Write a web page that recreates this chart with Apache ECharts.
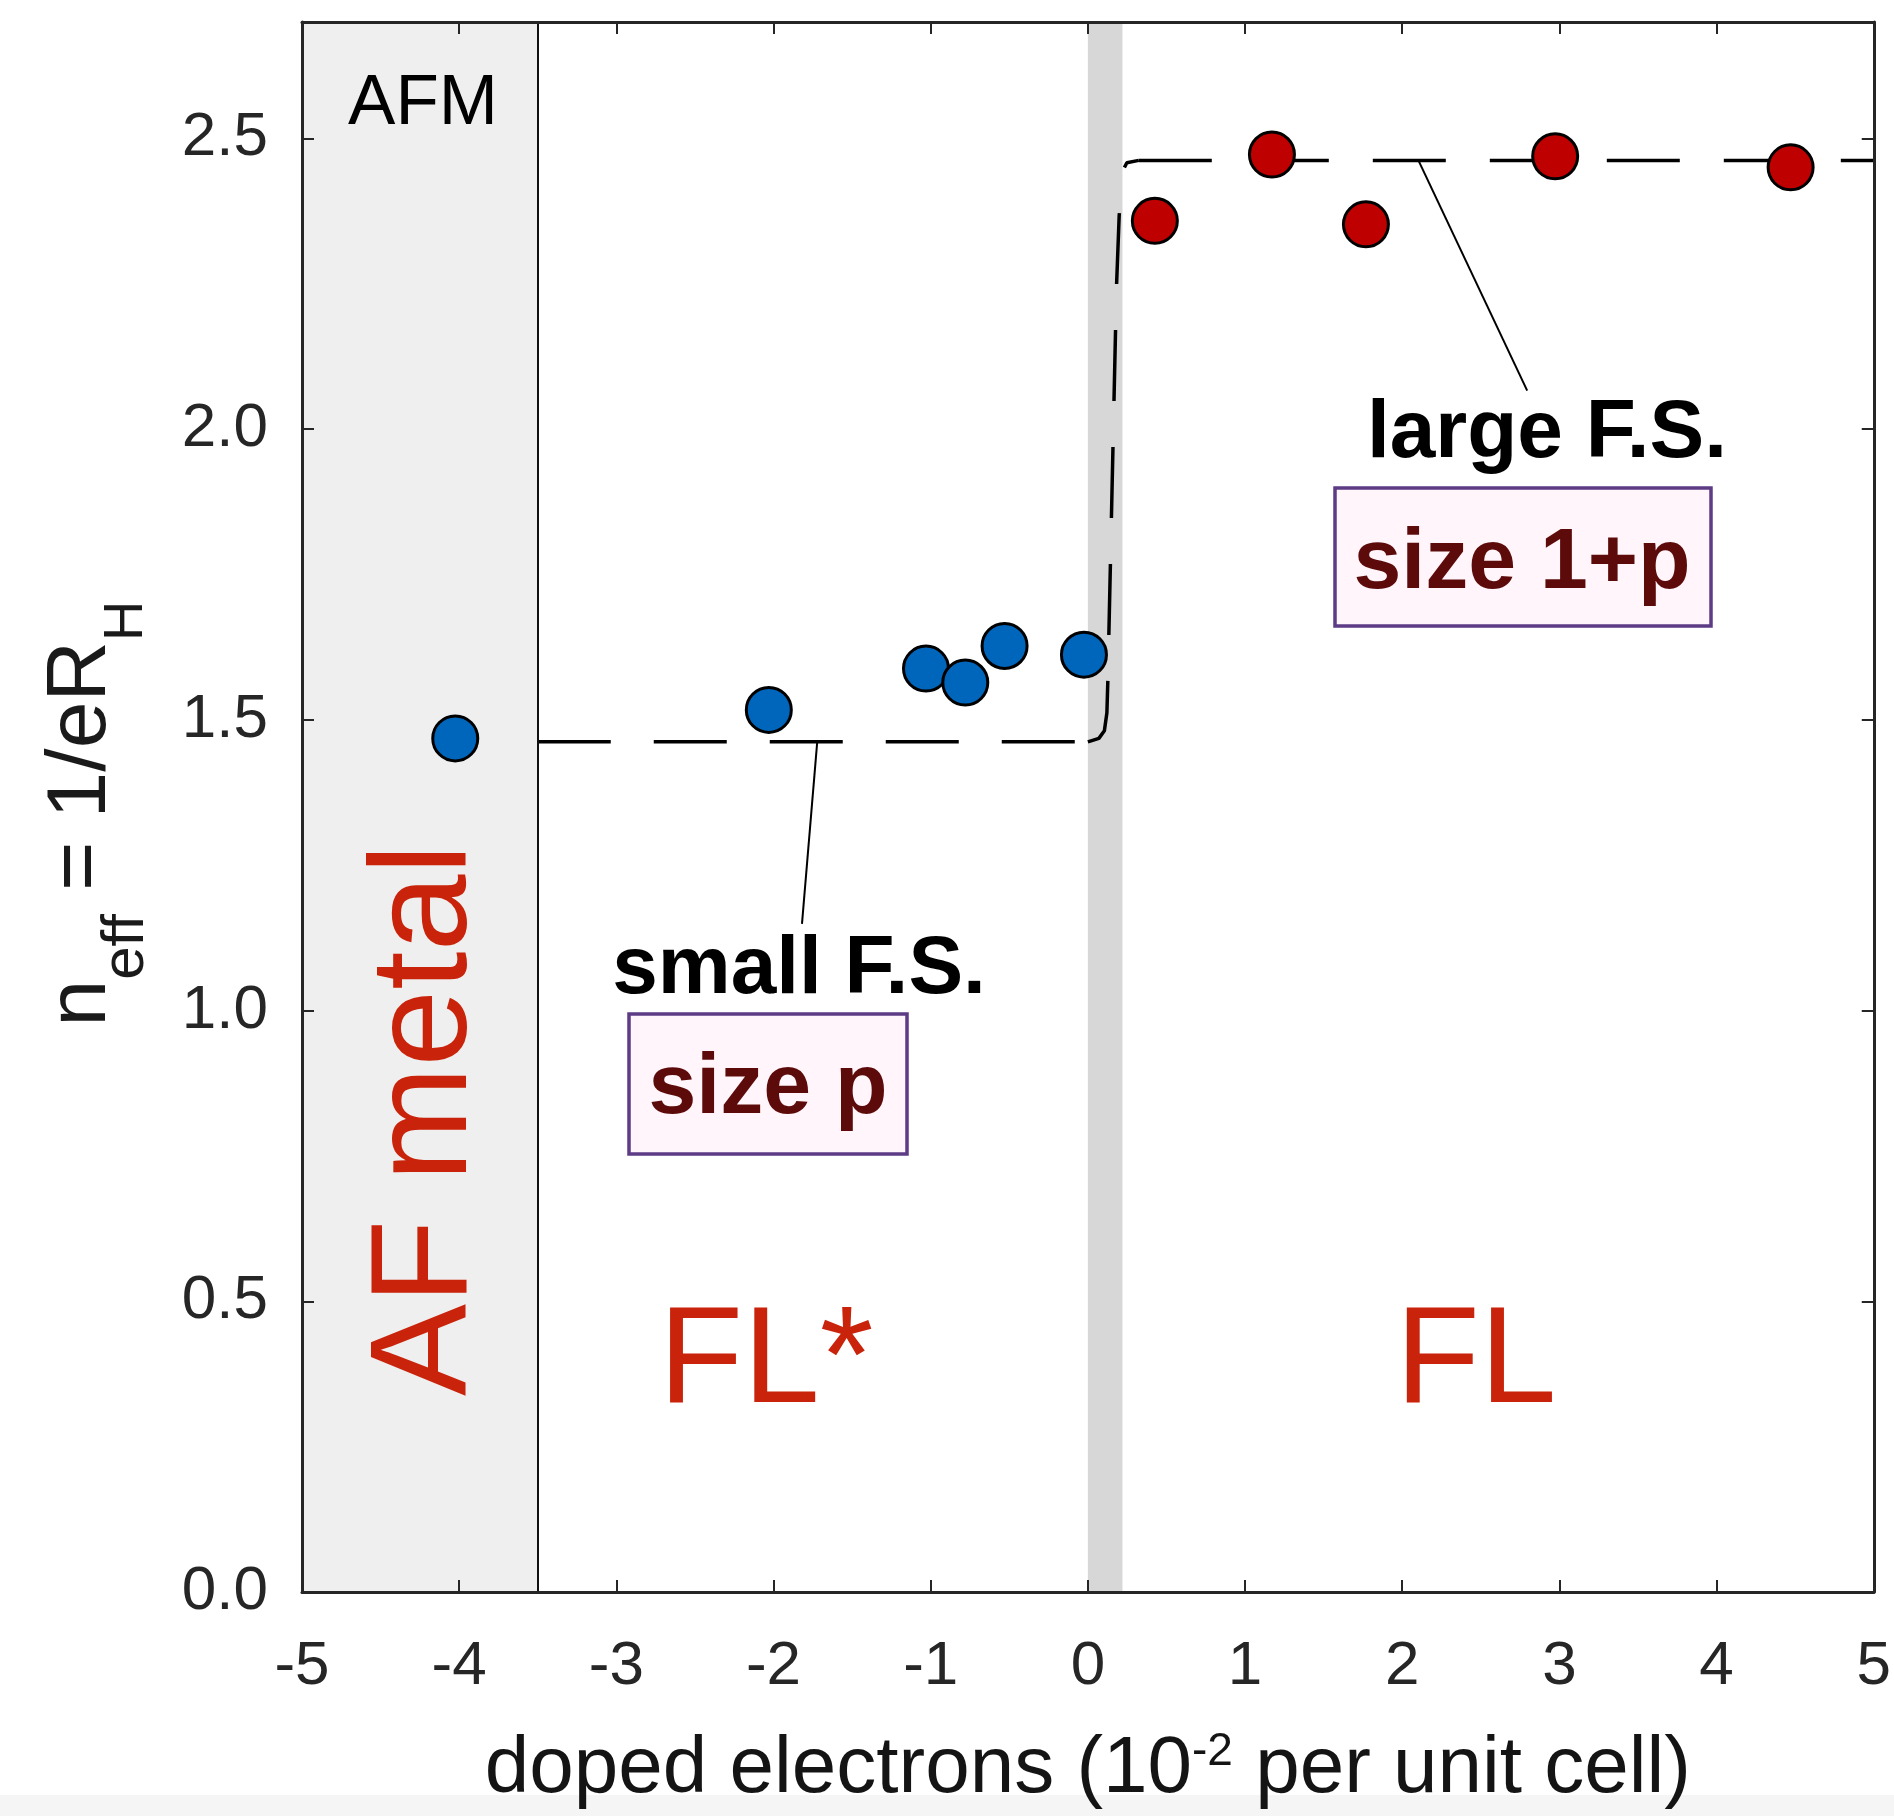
<!DOCTYPE html>
<html>
<head>
<meta charset="utf-8">
<script src="https://cdn.jsdelivr.net/npm/echarts@6/dist/echarts.min.js"></script>
<style>
  html, body { margin: 0; padding: 0; background: #ffffff; }
  #chart { width: 1894px; height: 1816px; }
</style>
</head>
<body>
<div id="chart"></div>
<script>
const FONT = '"Liberation Sans", Arial, Helvetica, sans-serif';

// Hall number on the hole-doped side (small Fermi surface, FL*)
const smallFsX = [-4.025, -2.03, -1.03, -0.78, -0.53, -0.025];
const smallFsY = [1.468, 1.517, 1.588, 1.564, 1.627, 1.612];

// Hall number on the electron-doped side (large Fermi surface, FL)
const largeFsX = [0.426, 1.171, 1.769, 2.973, 4.471];
const largeFsY = [2.358, 2.472, 2.352, 2.469, 2.450];

// Guide curve, drawn in three dashed pieces: plateau p, the rise, plateau 1+p
const plateauLowX = [-3.5, 0.0];
const plateauLowY = [1.462, 1.462];
const riseX = [0.0, 0.07, 0.105, 0.121, 0.127, 0.182, 0.199, 0.222, 0.248, 0.324];
const riseY = [1.462, 1.468, 1.481, 1.512, 1.567, 2.244, 2.366, 2.444, 2.458, 2.462];
const plateauHighX = [0.324, 5];
const plateauHighY = [2.462, 2.462];

// Leader lines from the guide curve to their labels
const smallLeader = [[-1.722, 1.462], [-1.819, 1.149]];
const largeLeader = [[2.103, 2.462], [2.795, 2.066]];

// Phase boundaries
const afmEdge = -3.5;
const crossoverBand = [0, 0.22];

// Axes
const xRange = [-5, 5];
const yRange = [0, 2.7];
const xTickLabels = ['-5', '-4', '-3', '-2', '-1', '0', '1', '2', '3', '4', '5'];
const yTickLabels = ['0.0', '0.5', '1.0', '1.5', '2.0', '2.5'];

const AXIS_COLOR = '#262626';
const LABEL_RED = '#C9240B';
const BOX_TEXT = '#5C0A0A';

const chart = echarts.init(document.getElementById('chart'), null, { renderer: 'canvas' });

const sharedAxis = {
  z: 10,
  splitLine: { show: false },
  axisLine: { show: true, onZero: false, lineStyle: { color: AXIS_COLOR, width: 3 } },
  axisTick: { show: true, inside: true, length: 12, lineStyle: { color: AXIS_COLOR, width: 2 } }
};

const xAxisBase = Object.assign({}, sharedAxis, {
  type: 'value', min: xRange[0], max: xRange[1], interval: 1
});
const yAxisBase = Object.assign({}, sharedAxis, {
  type: 'value', min: yRange[0], max: yRange[1], interval: 0.5
});

function dashedPiece(name, xs, ys, dash) {
  return {
    name: name,
    type: 'line',
    z: 3,
    silent: true,
    symbol: 'none',
    showSymbol: false,
    data: xs.map((x, i) => [x, ys[i]]),
    lineStyle: { color: '#000000', width: 3.5, type: dash }
  };
}

function label(text, x, y, size, color, extra) {
  return Object.assign({
    type: 'text', z: 21, silent: true, x: x, y: y,
    style: {
      text: text, fontSize: size, fontFamily: FONT, fill: color,
      fontWeight: (extra && extra.bold) ? 'bold' : 'normal',
      align: 'center', verticalAlign: 'middle', textAlign: 'center', textVerticalAlign: 'middle'
    }
  }, extra && extra.rotation ? { rotation: extra.rotation } : {});
}

const option = {
  animation: false,
  backgroundColor: '#ffffff',
  grid: { left: 302, right: 18, top: 22, bottom: 219, containLabel: false },
  xAxis: [
    Object.assign({}, xAxisBase, {
      position: 'bottom',
      axisLabel: {
        show: true, margin: 44, fontSize: 62, fontFamily: FONT, color: AXIS_COLOR,
        formatter: v => xTickLabels[Math.round(v - xRange[0])]
      },
      name: '{a|doped electrons (10}{sup|-2}{a| per unit cell)}',
      nameLocation: 'middle',
      nameGap: 128,
      nameTextStyle: {
        fontFamily: FONT, color: '#141414',
        rich: {
          a: { fontSize: 80, fontFamily: FONT, color: '#141414', lineHeight: 100 },
          sup: { fontSize: 46, fontFamily: FONT, color: '#141414', lineHeight: 100, padding: [0, 0, 36, 0] }
        }
      }
    }),
    Object.assign({}, xAxisBase, { position: 'top', axisLabel: { show: false } })
  ],
  yAxis: [
    Object.assign({}, yAxisBase, {
      position: 'left',
      axisLabel: {
        show: true, margin: 34, fontSize: 62, fontFamily: FONT, color: AXIS_COLOR,
        showMaxLabel: false,
        formatter: v => {
          const i = Math.round(v / 0.5);
          return Math.abs(v - i * 0.5) < 1e-6 ? yTickLabels[i] : '';
        }
      },
      name: '{a|n}{s1|eff}{a| = 1/eR}{s2|H}',
      nameLocation: 'middle',
      nameRotate: 90,
      nameGap: 140,
      nameTextStyle: {
        fontFamily: FONT, color: '#1a1a1a',
        rich: {
          a: { fontSize: 84, fontFamily: FONT, color: '#1a1a1a', lineHeight: 160 },
          s1: { fontSize: 60, fontFamily: FONT, color: '#1a1a1a', lineHeight: 160, padding: [88, 0, 0, 0] },
          s2: { fontSize: 56, fontFamily: FONT, color: '#1a1a1a', lineHeight: 160, padding: [89, 13, 0, 0] }
        }
      }
    }),
    Object.assign({}, yAxisBase, { position: 'right', axisLabel: { show: false } })
  ],
  series: [
    {
      name: 'phases',
      type: 'line',
      data: [],
      z: 1,
      silent: true,
      markArea: {
        silent: true,
        data: [
          [{ xAxis: xRange[0], itemStyle: { color: '#EFEFEF' } }, { xAxis: afmEdge }],
          [{ xAxis: crossoverBand[0], itemStyle: { color: '#D7D7D7' } }, { xAxis: crossoverBand[1] }]
        ]
      },
      markLine: {
        silent: true,
        symbol: 'none',
        label: { show: false },
        lineStyle: { color: '#111111', width: 2, type: 'solid' },
        data: [{ xAxis: afmEdge }]
      }
    },
    dashedPiece('plateau p', plateauLowX, plateauLowY, [73, 43]),
    dashedPiece('rise', riseX, riseY, [71, 46]),
    dashedPiece('plateau 1+p', plateauHighX, plateauHighY, [73, 44]),
    {
      name: 'small leader',
      type: 'line',
      z: 3,
      silent: true,
      symbol: 'none',
      data: smallLeader,
      lineStyle: { color: '#000000', width: 2 }
    },
    {
      name: 'large leader',
      type: 'line',
      z: 3,
      silent: true,
      symbol: 'none',
      data: largeLeader,
      lineStyle: { color: '#000000', width: 2 }
    },
    {
      name: 'FL*',
      type: 'scatter',
      z: 5,
      symbol: 'circle',
      symbolSize: 45,
      data: smallFsX.map((x, i) => [x, smallFsY[i]]),
      itemStyle: { color: '#0066BB', borderColor: '#000000', borderWidth: 3, opacity: 1 }
    },
    {
      name: 'FL',
      type: 'scatter',
      z: 5,
      symbol: 'circle',
      symbolSize: 45,
      data: largeFsX.map((x, i) => [x, largeFsY[i]]),
      itemStyle: { color: '#BE0000', borderColor: '#000000', borderWidth: 3, opacity: 1 }
    }
  ],
  graphic: {
    elements: [
      { type: 'rect', z: 0, silent: true, shape: { x: 0, y: 1795, width: 1894, height: 21 },
        style: { fill: '#F5F5F5' } },
      label('AFM', 423, 104, 71, '#000000'),
      label('AF metal', 428, 1120, 138, LABEL_RED, { rotation: Math.PI / 2 }),
      label('FL*', 766, 1364, 138, LABEL_RED),
      label('FL', 1476, 1364, 138, LABEL_RED),
      label('small F.S.', 799, 970, 82, '#000000', { bold: true }),
      label('large F.S.', 1547, 434, 82, '#000000', { bold: true }),
      { type: 'rect', z: 20, silent: true, shape: { x: 629, y: 1014, width: 278, height: 140 },
        style: { fill: '#FFF5FA', stroke: '#5E3B85', lineWidth: 3.5 } },
      label('size p', 768, 1089, 86, BOX_TEXT, { bold: true }),
      { type: 'rect', z: 20, silent: true, shape: { x: 1335, y: 488, width: 376, height: 138 },
        style: { fill: '#FFF5FA', stroke: '#5E3B85', lineWidth: 3.5 } },
      label('size 1+p', 1522, 564, 86, BOX_TEXT, { bold: true })
    ]
  }
};

chart.setOption(option);
</script>
</body>
</html>
